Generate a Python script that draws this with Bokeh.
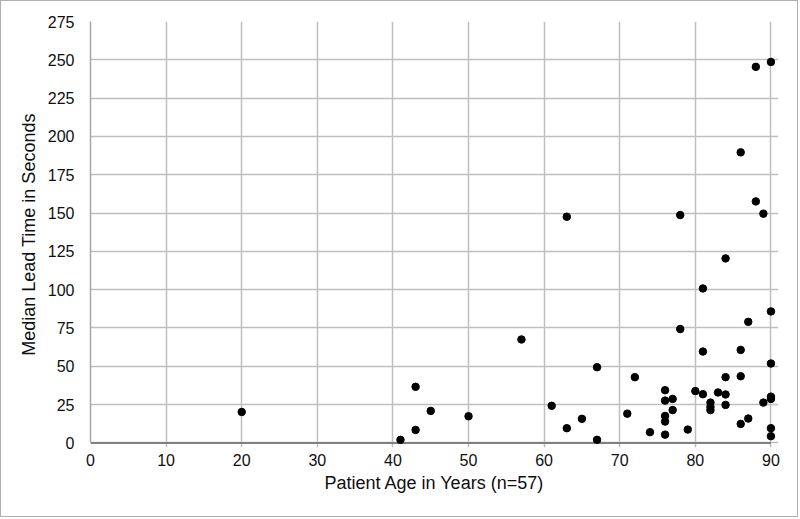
from bokeh.plotting import figure
from bokeh.models import ColumnDataSource, Range1d, FixedTicker
from bokeh.embed import file_html
from bokeh.resources import INLINE

# Patient age (years) and median lead time (seconds)
age = [20, 43, 45, 43, 41, 50, 57, 61, 65, 63, 67, 67, 63,
       90, 88, 86, 88,
       89, 78, 84, 81, 90, 87, 78,
       81, 86, 90, 72, 84, 86, 76, 80, 81, 83, 84, 76, 77, 90, 90, 89,
       82, 82, 82, 84, 77, 71, 76, 76, 87, 86, 74, 79, 76, 90, 90]
lead_time = [20.2, 36.6, 20.9, 8.5, 2.0, 17.4, 67.5, 24.2, 15.7, 9.6, 49.4, 2.0, 147.6,
             248.6, 245.4, 189.6, 157.6,
             149.6, 148.7, 120.4, 100.8, 85.8, 79.0, 74.3,
             59.6, 60.7, 51.8, 42.9, 42.9, 43.5, 34.4, 33.8, 31.8, 32.9, 31.6, 27.6, 28.7, 30.2, 28.7, 26.3,
             26.3, 23.5, 21.4, 24.8, 21.4, 19.1, 17.6, 13.9, 15.9, 12.4, 7.0, 8.7, 5.4, 9.6, 4.4]

x_ticks = list(range(0, 91, 10))
y_ticks = list(range(0, 276, 25))

src = ColumnDataSource(dict(x=age, y=lead_time))

# ranges padded slightly beyond the axes so edge markers are not clipped
p = figure(width=798, height=517, output_backend="svg", toolbar_location=None,
           x_range=Range1d(0, 91), y_range=Range1d(-3, 275),
           min_border_left=89, min_border_right=21, min_border_top=20, min_border_bottom=71)
p.styles = {"border": "1px solid #b0b0b0"}

p.outline_line_color = None
p.xaxis.ticker = FixedTicker(ticks=x_ticks)
p.yaxis.ticker = FixedTicker(ticks=y_ticks)
p.xgrid.ticker = FixedTicker(ticks=x_ticks)
p.ygrid.ticker = FixedTicker(ticks=y_ticks)
p.xgrid.bounds = (y_ticks[0], y_ticks[-1])
p.ygrid.bounds = (x_ticks[0], x_ticks[-1])
p.xgrid.grid_line_color = "#bfbfbf"
p.ygrid.grid_line_color = "#bfbfbf"
p.xgrid.grid_line_width = 1.5
p.ygrid.grid_line_width = 1.5

# horizontal axis line at zero
p.segment(x0=[x_ticks[0]], y0=[y_ticks[0]], x1=[x_ticks[-1]], y1=[y_ticks[0]],
          line_color="#808080", line_width=2)

p.scatter("x", "y", source=src, size=7.5, color="black", line_color="black")

for ax in (p.xaxis, p.yaxis):
    ax.major_tick_line_color = None
    ax.minor_tick_line_color = None
    ax.major_label_text_font = "Liberation Sans"
    ax.major_label_text_font_size = "16px"
    ax.major_label_text_color = "#0f0f0f"
    ax.axis_label_text_font = "Liberation Sans"
    ax.axis_label_text_font_size = "18px"
    ax.axis_label_text_font_style = "normal"
    ax.axis_label_text_color = "#0f0f0f"

p.xaxis.axis_line_color = None
p.yaxis.axis_line_color = "#a6a6a6"
p.yaxis.axis_line_width = 1.5
p.yaxis.bounds = (y_ticks[0], y_ticks[-1])
p.xaxis.major_label_standoff = 0
p.yaxis.major_label_standoff = 10
p.xaxis.axis_label_standoff = 4
p.yaxis.axis_label_standoff = 6
p.xaxis.axis_label = "Patient Age in Years (n=57)"
p.yaxis.axis_label = "Median Lead Time in Seconds"

open("out.html", "w").write(file_html(p, INLINE))
